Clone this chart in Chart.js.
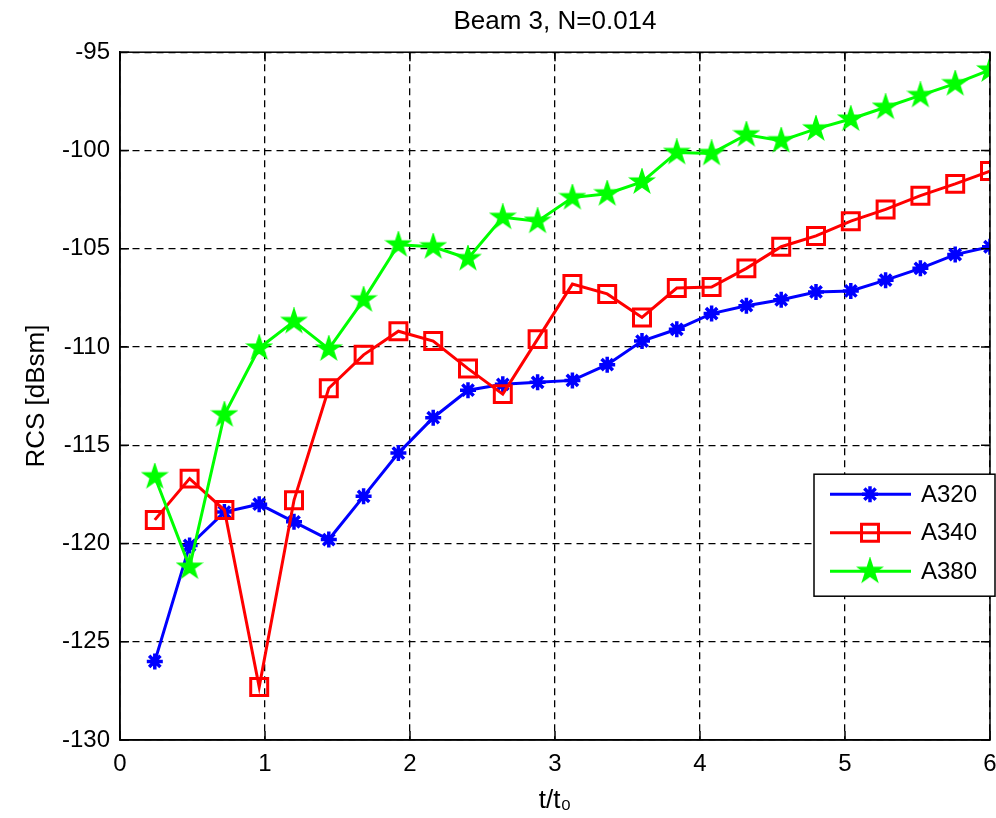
<!DOCTYPE html>
<html>
<head>
<meta charset="utf-8">
<script src="https://cdn.jsdelivr.net/npm/chart.js@4/dist/chart.umd.min.js"></script>
<style>
  html, body { margin: 0; padding: 0; background: #fff; overflow: hidden; }
  #wrap { width: 996px; height: 818px; }
  canvas { display: block; }
</style>
</head>
<body>
<div id="wrap"><canvas id="rcsChart" width="996" height="818"></canvas></div>
<script>
// time axis, t/t0
const tVals = [0.24, 0.48, 0.72, 0.96, 1.2, 1.44, 1.68, 1.92, 2.16, 2.4, 2.64, 2.88, 3.12,
               3.36, 3.6, 3.84, 4.08, 4.32, 4.56, 4.8, 5.04, 5.28, 5.52, 5.76, 6.0];

// RCS in dBsm per aircraft
const a320 = [-126.0, -120.1, -118.4, -118.0, -118.9, -119.8, -117.6, -115.4, -113.6, -112.2, -111.9, -111.8, -111.7,
              -110.9, -109.7, -109.1, -108.3, -107.9, -107.6, -107.2, -107.15, -106.6, -106.0, -105.3, -104.9];
const a340 = [-118.8, -116.7, -118.3, -127.3, -117.8, -112.1, -110.4, -109.2, -109.7, -111.1, -112.4, -109.6, -106.8,
              -107.3, -108.5, -107.0, -106.95, -106.0, -104.9, -104.35, -103.6, -103.0, -102.3, -101.7, -101.05];
const a380 = [-116.6, -121.2, -113.45, -110.05, -108.7, -110.1, -107.6, -104.8, -104.9, -105.5, -103.4, -103.6, -102.4,
              -102.2, -101.6, -100.1, -100.15, -99.2, -99.5, -98.9, -98.4, -97.8, -97.2, -96.6, -95.9];

const yTicks = [-130, -125, -120, -115, -110, -105, -100, -95];
const xTicks = [0, 1, 2, 3, 4, 5, 6];

const FONT = 'Liberation Sans, Arial, sans-serif';

// filled five-point star marker for A380
function pentagram(color) {
    const c = document.createElement('canvas');
    c.width = 28; c.height = 28;
    const g = c.getContext('2d');
    const ro = 12.5, ri = ro * 0.382;
    g.beginPath();
    for (let i = 0; i < 10; i++) {
        const r = i % 2 === 0 ? ro : ri;
        const a = -Math.PI / 2 + i * Math.PI / 5;
        const px = 14 + r * Math.cos(a), py = 14 + r * Math.sin(a);
        if (i === 0) g.moveTo(px, py); else g.lineTo(px, py);
    }
    g.closePath();
    g.fillStyle = color;
    g.strokeStyle = color;
    g.lineWidth = 1.5;
    g.fill();
    g.stroke();
    return c;
}

const starImg = pentagram('#00ff00');

function toPoints(ys) {
    return ys.map((y, i) => ({ x: tVals[i], y: y }));
}

// box, inward ticks and legend like a MATLAB axes
const axesDecor = {
    id: 'axesDecor',
    afterDraw(chart) {
        const ctx = chart.ctx;
        const a = chart.chartArea;
        const xs = chart.scales.x, ys = chart.scales.y;
        ctx.save();
        ctx.strokeStyle = '#000';
        ctx.lineWidth = 1.5;
        ctx.setLineDash([]);
        ctx.strokeRect(a.left, a.top, a.right - a.left, a.bottom - a.top);
        const tl = 9;
        ctx.beginPath();
        xTicks.forEach(v => {
            const px = xs.getPixelForValue(v);
            ctx.moveTo(px, a.bottom); ctx.lineTo(px, a.bottom - tl);
            ctx.moveTo(px, a.top); ctx.lineTo(px, a.top + tl);
        });
        yTicks.forEach(v => {
            const py = ys.getPixelForValue(v);
            ctx.moveTo(a.left, py); ctx.lineTo(a.left + tl, py);
            ctx.moveTo(a.right, py); ctx.lineTo(a.right - tl, py);
        });
        ctx.stroke();

        // legend
        const bx = a.right - 176, by = a.top + 422, bw = 181, bh = 122;
        ctx.fillStyle = '#fff';
        ctx.fillRect(bx, by, bw, bh);
        ctx.lineWidth = 1.5;
        ctx.strokeRect(bx, by, bw, bh);
        chart.data.datasets.forEach((ds, i) => {
            const ry = by + 20 + i * 38.5;
            ctx.strokeStyle = ds.borderColor;
            ctx.lineWidth = 3;
            ctx.beginPath();
            ctx.moveTo(bx + 16, ry);
            ctx.lineTo(bx + 97, ry);
            ctx.stroke();
            ctx.fillStyle = ds.pointBackgroundColor;
            ctx.strokeStyle = ds.borderColor;
            ctx.lineWidth = ds.pointBorderWidth;
            Chart.helpers.drawPoint(ctx, {
                pointStyle: ds.pointStyle, radius: ds.pointRadius, rotation: 0, borderWidth: ds.pointBorderWidth
            }, bx + 56, ry);
            ctx.fillStyle = '#000';
            ctx.font = '24px ' + FONT;
            ctx.textBaseline = 'middle';
            ctx.textAlign = 'left';
            ctx.fillText(ds.label, bx + 107, ry + 1);
        });
        ctx.restore();
    }
};

new Chart(document.getElementById('rcsChart'), {
    type: 'line',
    data: {
        datasets: [{
            label: 'A320',
            data: toPoints(a320),
            borderColor: '#0000ff',
            borderWidth: 3,
            pointStyle: 'star',
            pointRadius: 8,
            pointBorderWidth: 3.5,
            pointBackgroundColor: '#0000ff',
            order: 2
        }, {
            label: 'A340',
            data: toPoints(a340),
            borderColor: '#ff0000',
            borderWidth: 3,
            pointStyle: 'rect',
            pointRadius: 12,
            pointBorderWidth: 3,
            pointBackgroundColor: 'rgba(0,0,0,0)',
            order: 1
        }, {
            label: 'A380',
            data: toPoints(a380),
            borderColor: '#00ff00',
            borderWidth: 3,
            pointStyle: starImg,
            pointRadius: 12,
            pointBorderWidth: 1,
            pointBackgroundColor: '#00ff00',
            order: 0
        }]
    },
    options: {
        responsive: false,
        animation: false,
        layout: { autoPadding: false, padding: { left: 0, right: 6, top: 0, bottom: 0 } },
        plugins: {
            legend: { display: false },
            tooltip: { enabled: false },
            title: {
                display: true,
                text: 'Beam 3, N=0.014',
                fullSize: false,
                color: '#000',
                font: { family: FONT, size: 26, weight: 'normal' },
                padding: { top: 6, bottom: 15 }
            }
        },
        scales: {
            x: {
                type: 'linear',
                min: 0,
                max: 6,
                afterFit: s => { s.height = 78; s.paddingLeft = 0; s.paddingRight = 0; },
                afterBuildTicks: s => { s.ticks = xTicks.map(v => ({ value: v })); },
                ticks: { color: '#000', padding: 10, font: { family: FONT, size: 24 } },
                grid: { color: '#000', lineWidth: 1.3, drawTicks: false },
                border: { display: true, color: '#000', width: 1.5, dash: [7, 5] },
                title: {
                    display: true,
                    text: 't/t\u2080',
                    color: '#000',
                    font: { family: FONT, size: 26 },
                    padding: { top: 0, bottom: 2 }
                }
            },
            y: {
                type: 'linear',
                min: -130,
                max: -95,
                afterFit: s => { s.width = 120; s.paddingTop = 0; s.paddingBottom = 0; },
                afterBuildTicks: s => { s.ticks = yTicks.map(v => ({ value: v })); },
                ticks: { color: '#000', padding: 10, font: { family: FONT, size: 24 } },
                grid: { color: '#000', lineWidth: 1.3, drawTicks: false },
                border: { display: true, color: '#000', width: 1.5, dash: [7, 5] },
                title: {
                    display: true,
                    text: 'RCS [dBsm]',
                    color: '#000',
                    font: { family: FONT, size: 26 },
                    padding: { top: 21, bottom: 0 }
                }
            }
        }
    },
    plugins: [axesDecor]
});
</script>
</body>
</html>
